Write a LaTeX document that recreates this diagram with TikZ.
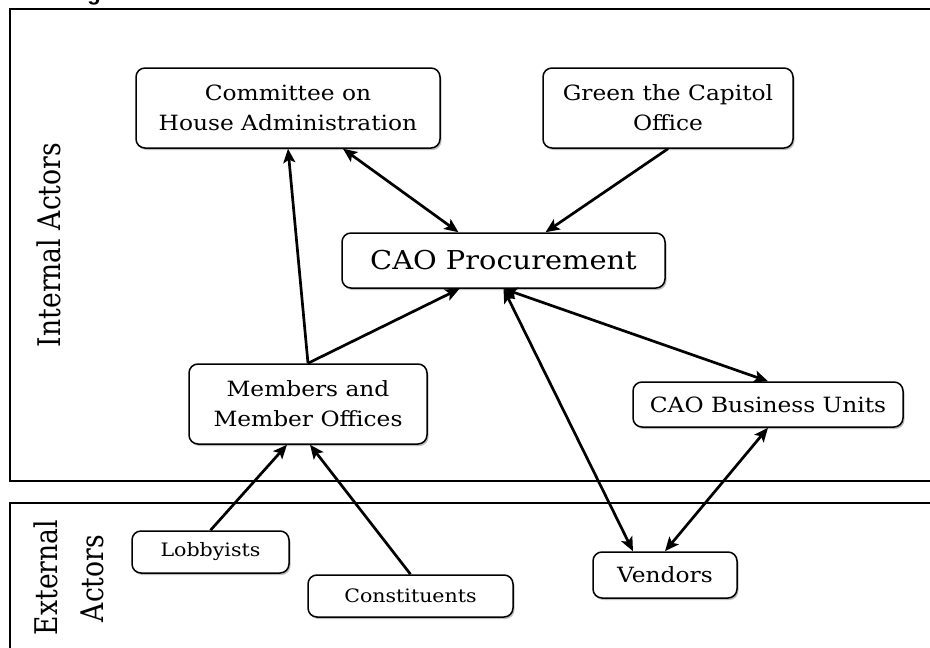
\documentclass[tikz,border=0pt]{standalone}
\usepackage{fontspec}
\setmainfont[FakeStretch=1.11]{DejaVu Serif}
\newfontfamily\capfont{Liberation Sans}
\usetikzlibrary{arrows.meta,shadows}
\tikzset{
  box/.style={draw=black, line width=1.5pt, rounded corners=9pt, fill=white, align=center, inner sep=0pt,
    drop shadow={shadow xshift=1.5pt, shadow yshift=-2pt, opacity=0.25, fill=black}},
  mainfont/.style={font=\fontsize{21}{30}\selectfont},
  smallfont/.style={font=\fontsize{18.5}{22}\selectfont},
  conn/.style={line width=2.7pt, black},
  region/.style={draw=black, line width=2pt},
  >={Stealth[length=14pt,width=12pt,inset=3pt]},
}
\begin{document}
\begin{tikzpicture}[x=1pt,y=-1pt]
\useasboundingbox (0,0) rectangle (930,648);
% partially visible caption letter
\node[font=\capfont\bfseries\fontsize{22}{22}\selectfont, anchor=base, inner sep=0pt] (cap) at (94,0) {g};
% regions
\draw[region] (10,9) rectangle (945,481);
\draw[region] (10,503) rectangle (945,665);
\node[rotate=90, anchor=base, inner sep=0pt, font=\fontsize{24}{28}\selectfont] (intl) at (60,245) {\scalebox{1}[1.3]{Internal Actors}};
\node[rotate=90, anchor=base, inner sep=0pt, font=\fontsize{24}{28}\selectfont] (ext1) at (57,577.5) {\scalebox{1}[1.3]{External}};
\node[rotate=90, anchor=base, inner sep=0pt, font=\fontsize{24}{28}\selectfont] (ext2) at (103,578.5) {\scalebox{1}[1.3]{Actors}};
% nodes
\node[box, mainfont, minimum width=304pt, minimum height=80pt] (committee) at (288,108) {Committee on\\House Administration};
\node[box, mainfont, minimum width=250pt, minimum height=80pt] (green) at (668,108) {Green the Capitol\\Office};
\node[box, font=\fontsize{26}{30}\selectfont, minimum width=323pt, minimum height=55pt] (cao) at (503.5,260.5) {CAO Procurement};
\node[box, mainfont, minimum width=238pt, minimum height=80pt] (members) at (308,404) {Members and\\Member Offices};
\node[box, mainfont, minimum width=270pt, minimum height=45pt] (bu) at (768,404.5) {CAO Business Units};
\node[box, mainfont, minimum width=144pt, minimum height=46pt] (vendors) at (665,575) {Vendors};
\node[box, smallfont, minimum width=157pt, minimum height=42pt] (lobby) at (210.5,552) {Lobbyists};
\node[box, smallfont, minimum width=205pt, minimum height=42pt] (const) at (410.5,596) {Constituents};
% connectors
\draw[conn,<->] ([xshift=55pt]committee.south) -- ([xshift=-45pt]cao.north);
\draw[conn,->] (green.south) -- ([xshift=42pt]cao.north);
\draw[conn,->] (members.north) -- (committee.south);
\draw[conn,->] (members.north) -- ([xshift=-44pt]cao.south);
\draw[conn,<->] (cao.south) -- (bu.north);
\draw[conn,<->] (cao.south) -- ([xshift=-32pt]vendors.north);
\draw[conn,<->] (bu.south) -- (vendors.north);
\draw[conn,->] (lobby.north) -- ([xshift=-21pt]members.south);
\draw[conn,->] (const.north) -- ([xshift=2pt]members.south);
\end{tikzpicture}
\end{document}
